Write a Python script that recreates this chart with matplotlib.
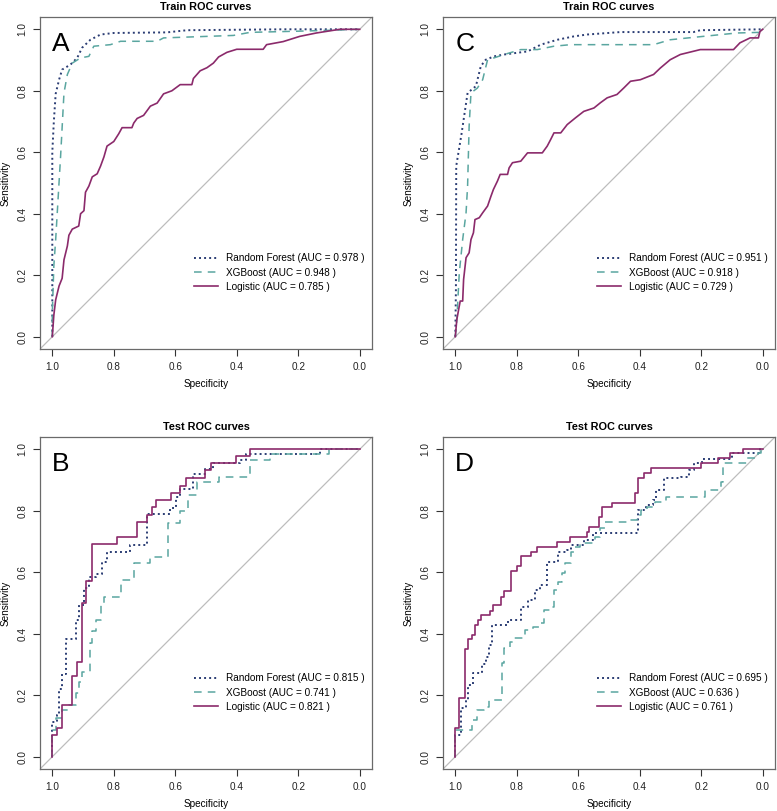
import matplotlib
matplotlib.use("Agg")
import matplotlib.pyplot as plt

plt.rcParams["font.family"] = ["Liberation Sans", "DejaVu Sans"]

# ---- panel A (train, set 1) : specificity / sensitivity pairs ----
a_rf_spec = [1.0, 1.0, 0.995, 0.989, 0.978, 0.968, 0.941, 0.919, 0.903, 0.876, 0.843, 0.80, 0.627, 0.562, 0.249, 0.0]
a_rf_sens = [0.0, 0.60, 0.70, 0.79, 0.836, 0.869, 0.885, 0.907, 0.94, 0.966, 0.983, 0.988, 0.99, 0.997, 1.0, 1.0]
a_xgb_spec = [1.0, 1.0, 0.995, 0.989, 0.973, 0.962, 0.951, 0.935, 0.908, 0.881, 0.865, 0.811, 0.778, 0.659, 0.638, 0.411, 0.357, 0.195, 0.086, 0.0]
a_xgb_sens = [0.0, 0.078, 0.23, 0.316, 0.587, 0.793, 0.853, 0.89, 0.907, 0.912, 0.945, 0.95, 0.961, 0.961, 0.972, 0.98, 0.99, 0.994, 0.997, 1.0]
a_log_spec = [1.0, 0.995, 0.989, 0.978, 0.968, 0.962, 0.951, 0.946, 0.935, 0.914, 0.908, 0.897, 0.892, 0.881, 0.870, 0.854,
              0.843, 0.832, 0.822, 0.800, 0.784, 0.773, 0.741, 0.735, 0.724, 0.703, 0.681, 0.659, 0.638, 0.611, 0.584, 0.546,
              0.541, 0.519, 0.497, 0.476, 0.459, 0.432, 0.400, 0.314, 0.303, 0.249, 0.195, 0.141, 0.065, 0.0]
a_log_sens = [0.0, 0.07, 0.12, 0.165, 0.19, 0.25, 0.295, 0.33, 0.35, 0.36, 0.40, 0.41, 0.47, 0.49, 0.52, 0.53,
              0.555, 0.585, 0.62, 0.635, 0.66, 0.68, 0.68, 0.695, 0.71, 0.72, 0.75, 0.76, 0.79, 0.80, 0.82, 0.82,
              0.84, 0.865, 0.875, 0.89, 0.91, 0.925, 0.935, 0.935, 0.95, 0.96, 0.977, 0.988, 1.0, 1.0]

# ---- panel C (train, set 2) ----
c_rf_spec = [1.0, 0.998, 0.997, 0.980, 0.96, 0.933, 0.917, 0.901, 0.874, 0.841, 0.765, 0.722, 0.668, 0.614, 0.571, 0.463, 0.225, 0.203, 0.0]
c_rf_sens = [0.0, 0.154, 0.555, 0.658, 0.793, 0.815, 0.88, 0.901, 0.912, 0.918, 0.928, 0.95, 0.966, 0.977, 0.983, 0.991, 0.991, 0.997, 1.0]
c_xgb_spec = [1.0, 0.995, 0.987, 0.976, 0.965, 0.960, 0.955, 0.949, 0.928, 0.911, 0.895, 0.874, 0.841, 0.787, 0.733, 0.679, 0.625, 0.355, 0.301, 0.193, 0.084, 0.01, 0.0]
c_xgb_sens = [0.0, 0.056, 0.208, 0.316, 0.403, 0.49, 0.685, 0.793, 0.809, 0.836, 0.901, 0.907, 0.918, 0.934, 0.934, 0.945, 0.95, 0.95, 0.966, 0.977, 0.988, 0.99, 1.0]
c_log_spec = [1.0, 0.995, 0.989, 0.984, 0.976, 0.973, 0.965, 0.955, 0.949, 0.941, 0.936, 0.922, 0.911, 0.895, 0.884, 0.876,
              0.863, 0.854, 0.830, 0.825, 0.814, 0.787, 0.765, 0.717, 0.701, 0.690, 0.679, 0.657, 0.636, 0.609, 0.582,
              0.549, 0.528, 0.506, 0.474, 0.452, 0.430, 0.398, 0.355, 0.333, 0.301, 0.268, 0.203, 0.095, 0.074, 0.041,
              0.014, 0.009, 0.0]
c_log_sens = [0.0, 0.056, 0.089, 0.116, 0.116, 0.186, 0.257, 0.273, 0.316, 0.338, 0.381, 0.387, 0.403, 0.425, 0.457, 0.479,
              0.506, 0.528, 0.528, 0.549, 0.566, 0.571, 0.598, 0.598, 0.62, 0.641, 0.663, 0.663, 0.69, 0.712, 0.733,
              0.744, 0.761, 0.777, 0.788, 0.809, 0.831, 0.836, 0.853, 0.874, 0.901, 0.918, 0.934, 0.934, 0.956, 0.972,
              0.972, 0.993, 1.0]

# ---- panel B (test, set 1) : step curves, horizontal run ends at spec ----
b_rf_spec = [1.0, 0.984, 0.978, 0.968, 0.957, 0.924, 0.914, 0.897, 0.881, 0.859, 0.838, 0.822, 0.748, 0.692, 0.616, 0.597, 0.584,
             0.541, 0.503, 0.476, 0.389, 0.37, 0.13, 0.0]
b_rf_sens = [0.0, 0.114, 0.136, 0.219, 0.269, 0.382, 0.445, 0.495, 0.55, 0.585, 0.595, 0.635, 0.665, 0.69, 0.79, 0.81, 0.845,
             0.87, 0.92, 0.935, 0.955, 0.965, 0.985, 1.0]
b_xgb_spec = [1.0, 0.989, 0.968, 0.946, 0.924, 0.914, 0.903, 0.876, 0.870, 0.859, 0.843, 0.832, 0.778, 0.735, 0.681, 0.622, 0.584,
              0.557, 0.530, 0.459, 0.357, 0.292, 0.10, 0.0]
b_xgb_sens = [0.0, 0.087, 0.125, 0.152, 0.168, 0.206, 0.244, 0.276, 0.37, 0.41, 0.445, 0.50, 0.52, 0.575, 0.63, 0.65, 0.76,
              0.80, 0.85, 0.895, 0.91, 0.965, 0.985, 1.0]
b_log_spec = [1.0, 0.984, 0.968, 0.935, 0.919, 0.903, 0.889, 0.870, 0.791, 0.724, 0.692, 0.676, 0.662, 0.614, 0.584, 0.565,
              0.503, 0.484, 0.402, 0.357, 0.0]
b_log_sens = [0.0, 0.07, 0.092, 0.168, 0.262, 0.309, 0.499, 0.571, 0.692, 0.716, 0.762, 0.786, 0.811, 0.835, 0.859, 0.881,
              0.906, 0.933, 0.954, 0.978, 1.0]

# ---- panel D (test, set 2) ----
d_rf_spec = [1.0, 0.982, 0.965, 0.960, 0.944, 0.912, 0.901, 0.890, 0.879, 0.830, 0.787, 0.765, 0.742, 0.725, 0.703, 0.665,
             0.638, 0.622, 0.582, 0.552, 0.405, 0.379, 0.357, 0.346, 0.32, 0.265, 0.24, 0.222, 0.197, 0.10, 0.01, 0.0]
d_rf_sens = [0.0, 0.07, 0.157, 0.184, 0.233, 0.271, 0.30, 0.325, 0.363, 0.428, 0.445, 0.488, 0.51, 0.542, 0.559, 0.634,
             0.667, 0.672, 0.689, 0.705, 0.727, 0.803, 0.82, 0.835, 0.868, 0.906, 0.911, 0.933, 0.954, 0.967, 0.987, 1.0]
d_xgb_spec = [1.0, 0.946, 0.93, 0.908, 0.89, 0.849, 0.843, 0.822, 0.811, 0.774, 0.746, 0.724, 0.711, 0.693, 0.68, 0.665,
              0.654, 0.643, 0.624, 0.611, 0.595, 0.546, 0.53, 0.514, 0.443, 0.41, 0.395, 0.376, 0.349, 0.314, 0.189,
              0.135, 0.13, 0.05, 0.015, 0.005, 0.0]
d_xgb_sens = [0.0, 0.087, 0.119, 0.152, 0.163, 0.184, 0.304, 0.352, 0.374, 0.385, 0.412, 0.423, 0.434, 0.477, 0.488, 0.542,
              0.569, 0.597, 0.629, 0.667, 0.683, 0.694, 0.716, 0.743, 0.765, 0.77, 0.786, 0.803, 0.813, 0.83, 0.846,
              0.868, 0.895, 0.954, 0.971, 0.987, 1.0]
d_log_spec = [1.0, 0.989, 0.968, 0.958, 0.947, 0.936, 0.925, 0.915, 0.888, 0.877, 0.852, 0.841, 0.819, 0.798, 0.787, 0.755,
              0.735, 0.670, 0.627, 0.573, 0.565, 0.533, 0.522, 0.490, 0.416, 0.406, 0.385, 0.362, 0.2, 0.144, 0.106, 0.065, 0.0]
d_log_sens = [0.0, 0.092, 0.192, 0.349, 0.382, 0.396, 0.428, 0.445, 0.461, 0.475, 0.493, 0.521, 0.540, 0.604, 0.620, 0.653,
              0.667, 0.683, 0.700, 0.716, 0.732, 0.748, 0.779, 0.811, 0.826, 0.859, 0.906, 0.922, 0.938, 0.954, 0.971, 0.987, 1.0]

auc = {"A": [0.978, 0.948, 0.785], "C": [0.951, 0.918, 0.729], "B": [0.815, 0.741, 0.821], "D": [0.695, 0.636, 0.761]}
model_names = ["Random Forest", "XGBoost", "Logistic"]

col_rf = "#2b3d74"
col_xgb = "#5aa6a0"
col_log = "#8b2a6b"

panels = {
    "A": ("Train ROC curves", [(a_rf_spec, a_rf_sens), (a_xgb_spec, a_xgb_sens), (a_log_spec, a_log_sens)], "default"),
    "C": ("Train ROC curves", [(c_rf_spec, c_rf_sens), (c_xgb_spec, c_xgb_sens), (c_log_spec, c_log_sens)], "default"),
    "B": ("Test ROC curves", [(b_rf_spec, b_rf_sens), (b_xgb_spec, b_xgb_sens), (b_log_spec, b_log_sens)], "steps-pre"),
    "D": ("Test ROC curves", [(d_rf_spec, d_rf_sens), (d_xgb_spec, d_xgb_sens), (d_log_spec, d_log_sens)], "steps-pre"),
}

W, H = 777, 811
fig = plt.figure(figsize=(W / 100, H / 100), dpi=100)
boxes = {"A": (40, 17), "C": (443, 17), "B": (40, 437), "D": (443, 437)}
size = 332

styles = [dict(color=col_rf, ls=(0, (1, 1.6)), lw=1.4),
          dict(color=col_xgb, ls=(0, (5, 4)), lw=1.1),
          dict(color=col_log, ls="-", lw=1.2)]

for key, (title, curves, ds) in panels.items():
    x0, y0 = boxes[key]
    ax = fig.add_axes([x0 / W, 1 - (y0 + size) / H, size / W, size / H])
    ax.axline((1, 0), (0, 1), color="#bdbdbd", lw=0.9, zorder=1)
    handles = []
    for (sp, se), st, name, a in zip(curves, styles, model_names, auc[key]):
        h, = ax.plot(sp, se, drawstyle=ds, label=f"{name} (AUC = {a:.3f} )", zorder=3, **st)
        handles.append(h)
    ax.set_xlim(1.04, -0.04)
    ax.set_ylim(-0.04, 1.04)
    ticks = [0.0, 0.2, 0.4, 0.6, 0.8, 1.0]
    ax.set_xticks(ticks)
    ax.set_yticks(ticks)
    ax.set_xticklabels([f"{t:.1f}" for t in ticks])
    ax.set_yticklabels([f"{t:.1f}" for t in ticks], rotation=90, va="center")
    ax.tick_params(length=5, width=0.8, colors="#333333", labelsize=7.2, pad=4, labelcolor="#222222")
    for s in ax.spines.values():
        s.set_color("#6a6a6a")
        s.set_linewidth(0.9)
    ax.set_title(title, fontsize=7.8, fontweight="bold", pad=5)
    ax.set_xlabel("Specificity", fontsize=7.2)
    ax.set_ylabel("Sensitivity", fontsize=7.2)
    ax.xaxis.set_label_coords(0.5, -0.09)
    ax.yaxis.set_label_coords(-0.09, 0.5)
    ax.text(1.0, 0.93, key, fontsize=19, ha="left", va="baseline")
    ax.legend(handles=handles, loc="upper left", bbox_to_anchor=(0.465, 0.288), frameon=False,
              fontsize=7.2, handlelength=2.4, handletextpad=0.8, labelspacing=0.42, borderaxespad=0, borderpad=0)

fig.savefig("out.png", dpi=100)
